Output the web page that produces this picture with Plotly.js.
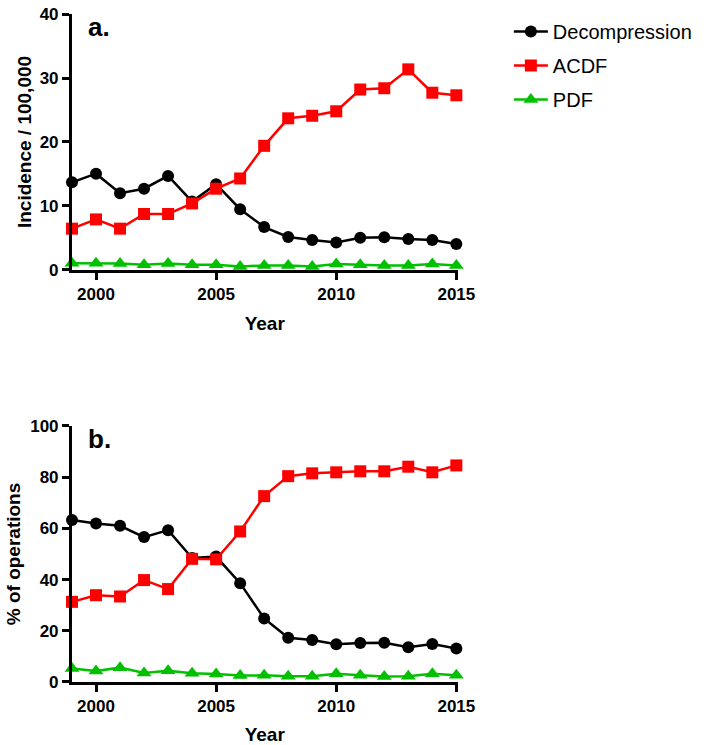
<!DOCTYPE html>
<html>
<head>
<meta charset="utf-8">
<script src="https://cdn.plot.ly/plotly-3.0.1.min.js"></script>
<style>html,body{margin:0;padding:0;background:#fff;}#chart{width:705px;height:745px;}</style>
</head>
<body>
<div id="chart"></div>
<script>
const years = [1999,2000,2001,2002,2003,2004,2005,2006,2007,2008,2009,2010,2011,2012,2013,2014,2015];

// Panel a: incidence per 100,000
const incDecompression = [13.7,15.05,12.0,12.7,14.7,10.7,13.4,9.5,6.7,5.15,4.7,4.3,5.05,5.1,4.85,4.7,4.06];
const incACDF = [6.46,7.9,6.46,8.75,8.75,10.4,12.7,14.3,19.4,23.7,24.1,24.8,28.2,28.4,31.35,27.7,27.3];
const incPDF = [1.05,1.05,1.0,0.8,1.0,0.8,0.8,0.55,0.7,0.7,0.55,0.95,0.8,0.7,0.7,0.95,0.7];

// Panel b: % of operations
const pctDecompression = [63.3,61.9,61.0,56.6,59.3,48.4,49.0,38.6,24.8,17.3,16.4,14.7,15.2,15.3,13.6,14.8,13.1];
const pctACDF = [31.3,33.9,33.4,39.8,36.3,48.1,47.9,58.8,72.6,80.4,81.5,81.9,82.3,82.3,84.1,81.9,84.6];
const pctPDF = [5.3,4.3,5.6,3.5,4.4,3.4,3.1,2.5,2.6,2.2,2.2,3.25,2.6,2.1,2.2,3.25,2.6];

const seriesNames = ['Decompression','ACDF','PDF'];
const xTicks = [2000,2005,2010,2015];

const colors = ['#000000','#ff0000','#00c000'];
const symbols = ['circle','square','triangle-up'];
const sizes = [12,12,13];

function mk(y, i, xa, ya, show){
  return {x: years, y: y, name: seriesNames[i], type:'scatter', mode:'lines+markers',
    xaxis: xa, yaxis: ya, showlegend: show, cliponaxis:false, legendgroup:'g'+i,
    line:{color:colors[i], width:2.5},
    marker:{color:colors[i], symbol:symbols[i], size:sizes[i]}};
}

const data = [
  mk(incDecompression,0,'x','y',true),
  mk(incACDF,1,'x','y',true),
  mk(incPDF,2,'x','y',true),
  mk(pctDecompression,0,'x2','y2',false),
  mk(pctACDF,1,'x2','y2',false),
  mk(pctPDF,2,'x2','y2',false)
];

const F = 'Liberation Sans, Arial, Helvetica, sans-serif';
const tickFont = {family:F, size:17, color:'#000', weight:'bold'};
const titleFont = {family:F, size:19, color:'#000', weight:'bold'};

function xax(anchor){
  return {domain:[0.1021,0.649], range:[1999,2015.05], anchor:anchor,
    tickvals:xTicks, ticktext:xTicks.map(String), ticks:'outside', ticklen:7, tickwidth:3, tickcolor:'#000',
    showline:true, linewidth:3, linecolor:'#000', showgrid:false, zeroline:false,
    tickfont:tickFont, title:{text:'Year', font:titleFont, standoff:14}};
}
function yax(anchor, dom, range, dtick, title, so){
  return {domain:dom, range:range, anchor:anchor, dtick:dtick, tick0:0,
    ticks:'outside', ticklen:7, tickwidth:3, tickcolor:'#000',
    showline:true, linewidth:3, linecolor:'#000', showgrid:false, zeroline:false,
    tickfont:tickFont, title:{text:title, font:titleFont, standoff:so}};
}

const layout = {
  width:705, height:745,
  margin:{l:0,r:0,t:0,b:0},
  paper_bgcolor:'#fff', plot_bgcolor:'#fff',
  xaxis: xax('y'),
  yaxis: yax('x',[0.6376,0.9812],[0,40],10,'Incidence / 100,000',3),
  xaxis2: xax('y2'),
  yaxis2: yax('x2',[0.0846,0.4282],[0,100],20,'% of operations',5),
  showlegend:true,
  legend:{x:0.7218, y:0.984, xanchor:'left', yanchor:'top', bgcolor:'rgba(0,0,0,0)',
    font:{family:F, size:20, color:'#000'}, tracegroupgap:5, itemwidth:34},
  annotations:[
    {text:'a.', xref:'paper', yref:'paper', x:86/705, y:1-37/745, xanchor:'left', yanchor:'bottom', showarrow:false,
      font:{family:F, size:26, color:'#000', weight:'bold'}, yshift:-7},
    {text:'b.', xref:'paper', yref:'paper', x:86/705, y:1-449/745, xanchor:'left', yanchor:'bottom', showarrow:false,
      font:{family:F, size:26, color:'#000', weight:'bold'}, yshift:-7}
  ]
};

Plotly.newPlot('chart', data, layout, {displayModeBar:false, staticPlot:true});
</script>
</body>
</html>
